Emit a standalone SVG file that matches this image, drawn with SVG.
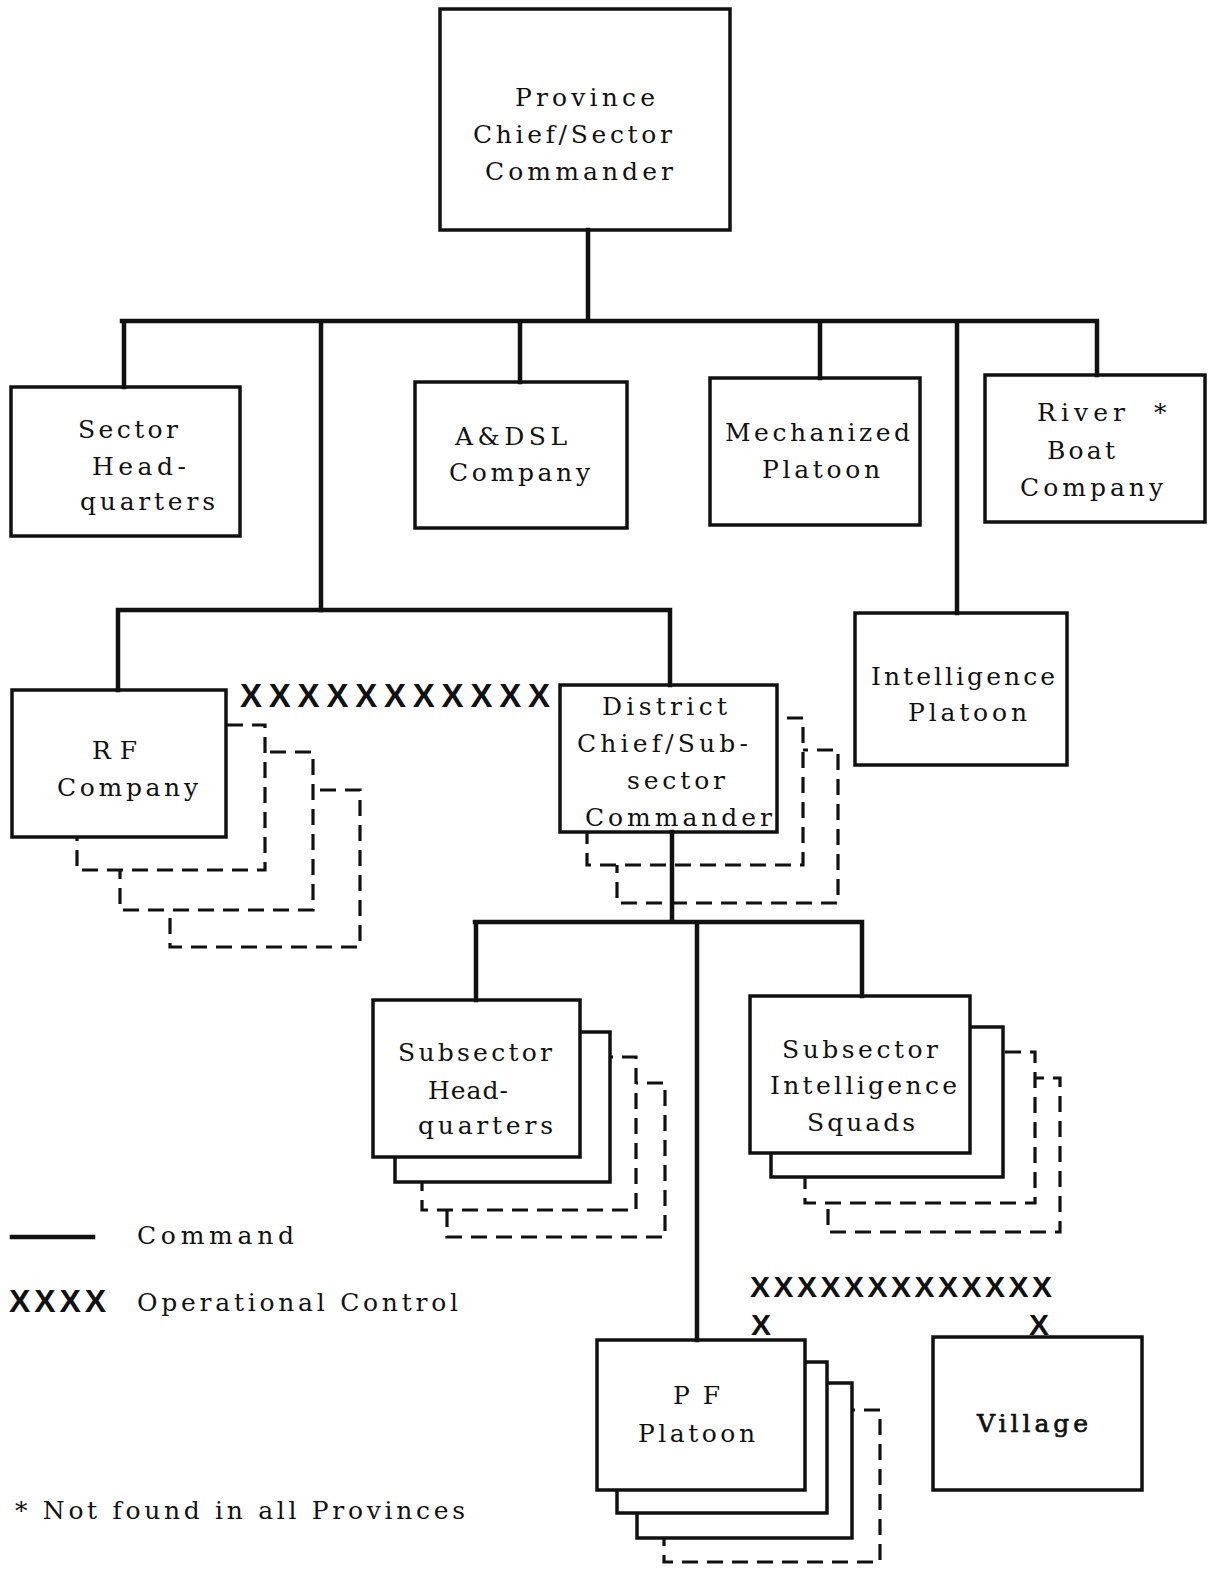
<svg xmlns="http://www.w3.org/2000/svg" width="1214" height="1570" viewBox="0 0 1214 1570">
<style>
.bg{fill:#fff}
.box{fill:#fff;stroke:#111;stroke-width:3.5}
.dbox{fill:#fff;stroke:#111;stroke-width:3.2;stroke-dasharray:16 9}
.cmd{stroke:#111;stroke-width:4.5;fill:none;stroke-linecap:square}
.t{font-family:"DejaVu Serif","Liberation Serif",serif;font-size:25px;fill:#111}
.x{font-family:"Liberation Sans","DejaVu Sans",sans-serif;font-weight:bold;fill:#111}
</style>
<rect class="bg" x="0" y="0" width="1214" height="1570"/>

<g id="province">
<rect class="box" x="440" y="9" width="290" height="221"/>
<text class="t" x="515" y="106" textLength="140">Province</text>
<text class="t" x="473" y="143" textLength="199">Chief/Sector</text>
<text class="t" x="485" y="180" textLength="188">Commander</text>
</g>

<g id="sector-hq">
<rect class="box" x="11" y="387" width="229" height="149"/>
<text class="t" x="78" y="438" textLength="100">Sector</text>
<text class="t" x="92" y="475" textLength="94">Head-</text>
<text class="t" x="80" y="510" textLength="135">quarters</text>
</g>

<g id="adsl">
<rect class="box" x="415" y="382" width="212" height="146"/>
<text class="t" x="455" y="445" textLength="112">A&amp;DSL</text>
<text class="t" x="449" y="481" textLength="141">Company</text>
</g>

<g id="mech">
<rect class="box" x="710" y="378" width="210" height="147"/>
<text class="t" x="725" y="441" textLength="185">Mechanized</text>
<text class="t" x="762" y="478" textLength="118">Platoon</text>
</g>

<g id="riverboat">
<rect class="box" x="985" y="375" width="220" height="147"/>
<text class="t" x="1037" y="421" textLength="88">River</text>
<text class="t" x="1154" y="421">*</text>
<text class="t" x="1047" y="459" textLength="68">Boat</text>
<text class="t" x="1020" y="496" textLength="143">Company</text>
</g>

<g id="intel-platoon">
<rect class="box" x="855" y="613" width="212" height="152"/>
<text class="t" x="871" y="685" textLength="184">Intelligence</text>
<text class="t" x="908" y="721" textLength="119">Platoon</text>
</g>

<g id="rf-company">
<rect class="dbox" x="170" y="790" width="190" height="157"/>
<rect class="dbox" x="120" y="752" width="193" height="158"/>
<rect class="dbox" x="77" y="725" width="188" height="145"/>
<rect class="box" x="12" y="690" width="214" height="147"/>
<text class="t" x="92" y="759" textLength="45">RF</text>
<text class="t" x="57" y="796" textLength="141">Company</text>
</g>

<g id="district">
<rect class="dbox" x="617" y="750" width="221" height="153"/>
<rect class="dbox" x="587" y="718" width="216" height="147"/>
<rect class="box" x="560" y="685" width="217" height="147"/>
<text class="t" x="602" y="715" textLength="125">District</text>
<text class="t" x="577" y="752" textLength="171">Chief/Sub-</text>
<text class="t" x="627" y="789" textLength="98">sector</text>
<text class="t" x="585" y="826" textLength="187">Commander</text>
</g>

<g id="subsector-hq">
<rect class="dbox" x="447" y="1083" width="218" height="154"/>
<rect class="dbox" x="422" y="1057" width="214" height="153"/>
<rect class="box" x="395" y="1032" width="215" height="150"/>
<rect class="box" x="373" y="1000" width="207" height="157"/>
<text class="t" x="398" y="1061" textLength="154">Subsector</text>
<text class="t" x="428" y="1099" textLength="80">Head-</text>
<text class="t" x="418" y="1134" textLength="135">quarters</text>
</g>

<g id="subsector-intel">
<rect class="dbox" x="828" y="1078" width="232" height="154"/>
<rect class="dbox" x="805" y="1052" width="230" height="151"/>
<rect class="box" x="771" y="1027" width="232" height="150"/>
<rect class="box" x="750" y="996" width="220" height="157"/>
<text class="t" x="782" y="1058" textLength="156">Subsector</text>
<text class="t" x="770" y="1094" textLength="187">Intelligence</text>
<text class="t" x="807" y="1131" textLength="108">Squads</text>
</g>

<g id="pf-platoon">
<rect class="dbox" x="664" y="1410" width="216" height="152"/>
<rect class="box" x="637" y="1383" width="215" height="155"/>
<rect class="box" x="617" y="1362" width="210" height="151"/>
<rect class="box" x="597" y="1340" width="208" height="150"/>
<text class="t" x="673" y="1404" textLength="47">PF</text>
<text class="t" x="638" y="1442" textLength="117">Platoon</text>
</g>

<g id="village">
<rect class="box" x="933" y="1337" width="209" height="153"/>
<text class="t" x="977" y="1432" textLength="111" style="stroke:#111;stroke-width:0.7">Village</text>
</g>

<g id="connectors">
<path class="cmd" d="M588 230V321M122 321H1097M124 321V387M321 321V610M520 321V382M820 321V378M957 321V613M1097 321V375"/>
<path class="cmd" d="M118 610H670M118 610V690M670 610V685"/>
<path class="cmd" d="M672 832V922M475 922H862M476 922V1000M862 922V996M697 922V1340"/>
<text class="x" x="240" y="707" font-size="33" textLength="310">XXXXXXXXXXX</text>
<text class="x" x="750" y="1297" font-size="30" textLength="302">XXXXXXXXXXXXX</text>
<text class="x" x="751" y="1335" font-size="30">X</text>
<text class="x" x="1029" y="1335" font-size="30">X</text>
</g>

<g id="legend">
<line class="cmd" x1="12" y1="1237" x2="93" y2="1237"/>
<text class="t" x="137" y="1244" textLength="157">Command</text>
<text class="x" x="9" y="1312" font-size="32" textLength="97">XXXX</text>
<text class="t" x="137" y="1311" textLength="321">Operational Control</text>
<text class="t" x="15" y="1519" textLength="450">* Not found in all Provinces</text>
</g>
</svg>
